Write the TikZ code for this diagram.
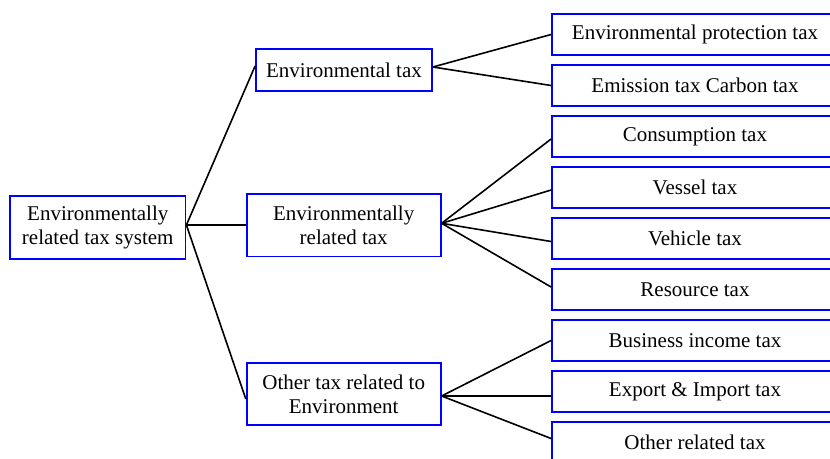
\documentclass[tikz,border=0pt]{standalone}
\usepackage{fontspec}
\setmainfont{Liberation Serif}
\begin{document}
\begin{tikzpicture}[x=1pt,y=-1pt,
  box/.style={draw=blue,line width=1.8pt,fill=white,inner sep=0pt,align=center,font=\fontsize{21}{24}\selectfont},
  leaf/.style={box,minimum width=286pt,minimum height=41pt},
  link/.style={draw=black,line width=1.6pt}]
\useasboundingbox (0,0) rectangle (830,458);
\fill[white] (0,0) rectangle (830,458);
% root and middle level
\node[box,minimum width=175.5pt,minimum height=63pt] (root) at (97.75,227.5) {Environmentally\\related tax system};
\node[box,minimum width=176pt,minimum height=42pt] (envtax) at (344,70) {Environmental tax};
\node[box,minimum width=194pt,minimum height=62.5pt] (envrel) at (343.7,225.3) {Environmentally\\related tax};
\node[box,minimum width=194pt,minimum height=62.5pt] (other) at (343.7,394) {Other tax related to\\Environment};
% leaves
\node[leaf] (p1) at (695,34.5) {Environmental protection tax};
\node[leaf] (p2) at (695,85.5) {Emission tax Carbon tax};
\node[leaf] (c1) at (695,136.5) {Consumption tax};
\node[leaf] (c2) at (695,187.5) {Vessel tax};
\node[leaf] (c3) at (695,238.5) {Vehicle tax};
\node[leaf] (c4) at (695,289.5) {Resource tax};
\node[leaf] (o1) at (695,340.5) {Business income tax};
\node[leaf] (o2) at (695,391.5) {Export \& Import tax};
\node[leaf] (o3) at (695,442.5) {Other related tax};
% connectors
\draw[link] ([yshift=2.5pt]root.east) -- ([yshift=4pt]envtax.west);
\draw[link] ([yshift=2.5pt]root.east) -- ([yshift=0.3pt]envrel.west);
\draw[link] ([yshift=2.5pt]root.east) -- ([yshift=-5pt]other.west);
\draw[link] ([yshift=3pt]envtax.east) -- (p1.west);
\draw[link] ([yshift=3pt]envtax.east) -- (p2.west);
\draw[link] ([yshift=2pt]envrel.east) -- ([yshift=-2.5pt]c1.west);
\draw[link] ([yshift=2pt]envrel.east) -- ([yshift=-2.5pt]c2.west);
\draw[link] ([yshift=2pt]envrel.east) -- ([yshift=-3pt]c3.west);
\draw[link] ([yshift=2pt]envrel.east) -- ([yshift=2.5pt]c4.west);
\draw[link] ([yshift=-2pt]other.east) -- (o1.west);
\draw[link] ([yshift=-2pt]other.east) -- ([yshift=-4.5pt]o2.west);
\draw[link] ([yshift=-2pt]other.east) -- ([yshift=4pt]o3.west);
\end{tikzpicture}
\end{document}
